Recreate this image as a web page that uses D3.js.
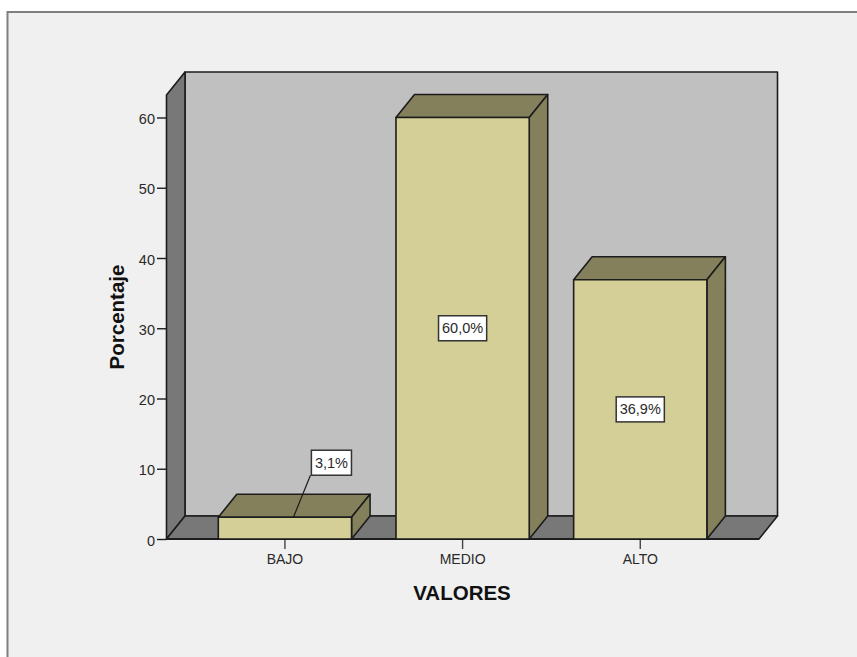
<!DOCTYPE html>
<html><head><meta charset="utf-8">
<script src="https://cdn.jsdelivr.net/npm/d3@7"></script>
<style>html,body{margin:0;padding:0;background:#fff}svg{display:block}text{font-family:"Liberation Sans",Arial,sans-serif}</style>
</head><body><svg id="c" width="857" height="657"></svg>
<script>
const categories = ["BAJO","MEDIO","ALTO"];
const percentages = [3.1,60.0,36.9];
const yTicks = [0,10,20,30,40,50,60];
const yTitle = "Porcentaje", xTitle = "VALORES";

const W=857,H=657;
const svg=d3.select("#c");
const ink="#1c1c1c";
const dx=18.5, dy=-23;
const L=166.5,R=759,B=539,T=95;
const y=d3.scaleLinear().domain([0,60]).range([B,117.5]);
const x=d3.scaleBand().domain(categories).range([196.1,729.1]).paddingInner(.25).paddingOuter(.125);
const poly=(pts,fill,sw=1.6)=>svg.append("path").attr("d",d3.line()(pts)+"Z").attr("fill",fill).attr("stroke",ink).attr("stroke-width",sw).attr("stroke-linejoin","round");

// frame
svg.append("rect").attr("x",7.5).attr("y",12).attr("width",W+10).attr("height",H+10).attr("fill","#f0f0f0").attr("stroke","#7f7f7f").attr("stroke-width",2);

// 3D walls
poly([[L+dx,T+dy],[R+dx,T+dy],[R+dx,B+dy],[L+dx,B+dy]],"#c0c0c0");
poly([[L,T],[L+dx,T+dy],[L+dx,B+dy],[L,B]],"#787878");
poly([[L,B],[L+dx,B+dy],[R+dx,B+dy],[R,B]],"#787878");

// y axis
const gy=svg.append("g").attr("transform",`translate(${L},0)`)
 .call(d3.axisLeft(y).tickValues(yTicks).tickSize(9.5).tickPadding(2).tickFormat(d3.format("d")));
gy.select(".domain").remove();
gy.selectAll("line").attr("stroke",ink).attr("stroke-width",1.4);
gy.selectAll("text").attr("font-size",14.5).attr("fill","#2a2a2a").attr("dy","0.42em");

// x axis
const gx=svg.append("g").attr("transform",`translate(0,${B})`)
 .call(d3.axisBottom(x).tickSize(10).tickPadding(5));
gx.select(".domain").remove();
gx.selectAll("line").attr("stroke","#444").attr("stroke-width",1.4);
gx.selectAll("text").attr("font-size",14).attr("fill","#2a2a2a");
svg.append("line").attr("x1",L).attr("x2",R).attr("y1",B).attr("y2",B).attr("stroke",ink).attr("stroke-width",2);

// bars
const bars=categories.map((c,i)=>({c,v:percentages[i],x0:x(c),x1:x(c)+x.bandwidth(),yt:y(percentages[i])}));
bars.forEach(b=>{
  poly([[b.x0,b.yt],[b.x0+dx,b.yt+dy],[b.x1+dx,b.yt+dy],[b.x1,b.yt]],"#84805c");
  poly([[b.x1,b.yt],[b.x1+dx,b.yt+dy],[b.x1+dx,B+dy],[b.x1,B]],"#84805c");
  poly([[b.x0,b.yt],[b.x1,b.yt],[b.x1,B],[b.x0,B]],"#d3cf97");
});

// value labels
const fmt=v=>d3.format(".1f")(v).replace(".",",")+"%";
bars.forEach(b=>{
  const mid=(b.x0+b.x1)/2;
  const callout=b.v<10;
  const cx=callout?mid+46.5:mid, cy=callout?y(b.v)-54.5:(y(b.v)+B)/2;
  const bh=25;
  if(callout) svg.append("line").attr("x1",mid+8.5).attr("y1",y(b.v)).attr("x2",cx-21).attr("y2",cy+bh/2)
     .attr("stroke",ink).attr("stroke-width",1.2);
  const box=svg.append("rect").attr("y",cy-bh/2).attr("height",bh)
     .attr("fill","#fff").attr("stroke","#333").attr("stroke-width",1.5);
  const t=svg.append("text").attr("x",cx).attr("y",cy+5).attr("text-anchor","middle").attr("font-size",14.5).attr("fill","#2a2a2a").text(fmt(b.v));
  const bw=t.node().getComputedTextLength()+7;
  box.attr("x",cx-bw/2).attr("width",bw);
});

// titles
svg.append("text").attr("x",462).attr("y",599.5).attr("text-anchor","middle").attr("font-size",20.5).attr("font-weight","bold").attr("fill","#111").text(xTitle);
svg.append("text").attr("transform","translate(124,317) rotate(-90)").attr("text-anchor","middle").attr("font-size",20.5).attr("font-weight","bold").attr("fill","#111").text(yTitle);
</script></body></html>
